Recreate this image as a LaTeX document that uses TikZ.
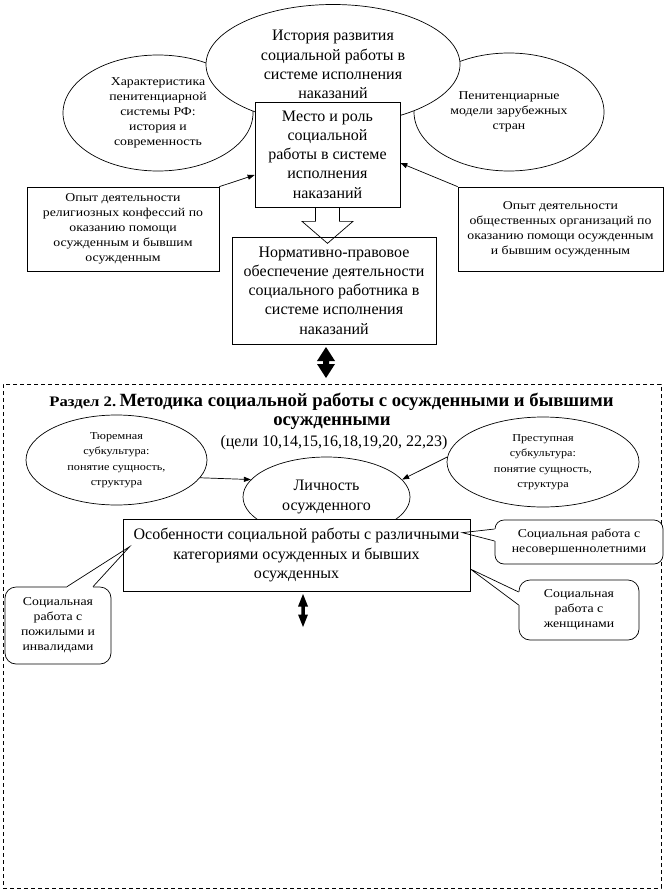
\documentclass[tikz,border=0pt]{standalone}
\usepackage{fontspec}
\setmainfont{Liberation Serif}
\newfontfamily\smallfam{Liberation Serif}[FakeStretch=1.15]
\usetikzlibrary{shapes.geometric,arrows.meta,calc}
\newcommand\txtS{\smallfam\fontsize{12}{15}\selectfont}
\newcommand\txtT{\smallfam\fontsize{10.6}{15.5}\selectfont}
\newcommand\txtL{\fontsize{16}{19.2}\selectfont}
\newcommand\txtB{\fontsize{18.7}{21}\selectfont\bfseries}
\tikzset{
  ln/.style={line width=0.7pt},
  ell/.style={ellipse, draw, ln, fill=white, inner sep=0pt, align=center},
  bx/.style={rectangle, draw, ln, fill=white, inner sep=0pt, align=center},
  cbox/.style={rectangle, draw, ln, fill=white, inner sep=0pt, align=center, rounded corners=#1, font=\txtS},
  cbox/.default=11pt,
  arr/.style={ln, -{Triangle[length=7pt,width=5pt]}},
  frame/.style={draw, line width=0.6pt, dash pattern=on 4pt off 3pt, inner sep=0pt},
}
\begin{document}
\begin{tikzpicture}[x=1pt,y=-1pt]
\useasboundingbox (0,0) rectangle (666,891);
% ---- top part
\node[ell, font=\txtS, minimum width=190, minimum height=116] (chr) at (158,113)
  {Характеристика\\ пенитенциарной\\ системы РФ:\\ история и\\ современность};
\node[ell, font=\txtS, minimum width=190, minimum height=118] (pen) at (509,112)
  {Пенитенциарные\\ модели зарубежных\\ стран};
\node[ell, font=\txtL, minimum width=254, minimum height=120] (hist) at (333,64.5)
  {История развития\\ социальной работы в\\ системе исполнения\\ наказаний};
\node[bx, font=\txtL, minimum width=145, minimum height=105] (place) at (327.5,154.5)
  {Место и роль\\ социальной\\ работы в системе\\ исполнения\\ наказаний};
\node[bx, font=\txtS, minimum width=192, minimum height=84] (relig) at (123,229)
  {Опыт деятельности\\ религиозных конфессий по\\ оказанию помощи\\ осужденным и бывшим\\ осужденным};
\node[bx, font=\txtS, minimum width=205, minimum height=84] (obsch) at (560.5,229)
  {Опыт деятельности\\ общественных организаций по\\ оказанию помощи осужденным\\ и бывшим осужденным};
\node[bx, font=\txtL, minimum width=204, minimum height=107] (norm) at (334,290.5)
  {Нормативно-правовое\\ обеспечение деятельности\\ социального работника в\\ системе исполнения\\ наказаний};
% hollow block arrow
\draw[ln] ([xshift=-12pt]place.south) -- ++(0,14) -- ++(-13.5,0) -- ++(25.5,22)
  -- ++(25.5,-22) -- ++(-13.5,0) -- ++(0,-14);
\draw[arr] (relig.north east) -- ([yshift=-20.5pt]place.west);
\draw[arr] (obsch.north west) -- ([yshift=-8.5pt]place.east);
% big double arrow
\coordinate (dbl1) at (326,362.5);
\fill ($(dbl1)+(0,-15.5)$) -- ++(9,14) -- ++(-6,0) -- ++(0,3) -- ++(6,0) -- ++(-9,14)
  -- ++(-9,-14) -- ++(6,0) -- ++(0,-3) -- ++(-6,0) -- cycle;
% ---- section 2
\node[frame, minimum width=658, minimum height=504] (sec) at (332,636) {};
\node[inner sep=0pt] (t1) at (331.5,402)
  {{\smallfam\fontsize{14.5}{17}\selectfont\bfseries Раздел 2.} {\txtB Методика социальной работы с осужденными и бывшими}};
\node[inner sep=0pt, font=\txtB] (t2) at (332,423) {осужденными};
\node[inner sep=0pt, font=\txtL] (t3) at (334,443) {(цели 10,14,15,16,18,19,20, 22,23)};
\node[ell, font=\txtT, minimum width=181, minimum height=90] (tyur) at (116.5,460)
  {Тюремная\\ субкультура:\\ понятие сущность,\\ структура};
\node[ell, font=\txtT, minimum width=192, minimum height=90] (prest) at (543,462)
  {Преступная\\ субкультура:\\ понятие сущность,\\ структура};
\node[ell, font=\txtL, minimum width=167, minimum height=80] (lich) at (326.5,497)
  {Личность\\ осужденного};
\draw[arr] (tyur.-12) -- (lich.167);
\draw[arr] (prest.177) -- (lich.13);
\node[bx, font=\txtL, minimum width=347, minimum height=72] (osob) at (296.5,555)
  {Особенности социальной работы с различными\\ категориями осужденных и бывших\\ осужденных};
% callouts
\node[cbox, minimum width=106, minimum height=77] (eld) at (58,625.5)
  {Социальная\\ работа с\\ пожилыми и\\ инвалидами};
\node[cbox=9pt, minimum width=168, minimum height=44] (mino) at (579,542)
  {Социальная работа с\\ несовершеннолетними};
\node[cbox, minimum width=120, minimum height=60] (wom) at (579,610)
  {Социальная\\ работа с\\ женщинами};
\coordinate (eldT) at ([shift={(7pt,-28pt)}]osob.north west);
\coordinate (minT) at ([shift={(-8pt,-14pt)}]osob.north east);
\coordinate (womT) at ([yshift=-14pt]osob.east);
\fill[white] ([shift={(9pt,1pt)}]eld.north) rectangle ([shift={(35pt,-1pt)}]eld.north);
\draw[ln] ([xshift=9pt]eld.north) -- (eldT) -- ([xshift=35pt]eld.north);
\fill[white] ([shift={(-1pt,13pt)}]mino.west) rectangle ([shift={(1pt,1pt)}]mino.west);
\draw[ln] ([yshift=13pt]mino.west) -- (minT) -- ([yshift=1pt]mino.west);
\fill[white] ([shift={(-1pt,18pt)}]wom.west) rectangle ([shift={(1pt,5pt)}]wom.west);
\draw[ln] ([yshift=18pt]wom.west) -- (womT) -- ([yshift=5pt]wom.west);
% small double arrow
\coordinate (dbl2) at (303,610.5);
\fill ($(dbl2)+(0,-16.5)$) -- ++(5,12.5) -- ++(-3.25,0) -- ++(0,8) -- ++(3.25,0) -- ++(-5,12.5)
  -- ++(-5,-12.5) -- ++(3.25,0) -- ++(0,-8) -- ++(-3.25,0) -- cycle;
\end{tikzpicture}
\end{document}
